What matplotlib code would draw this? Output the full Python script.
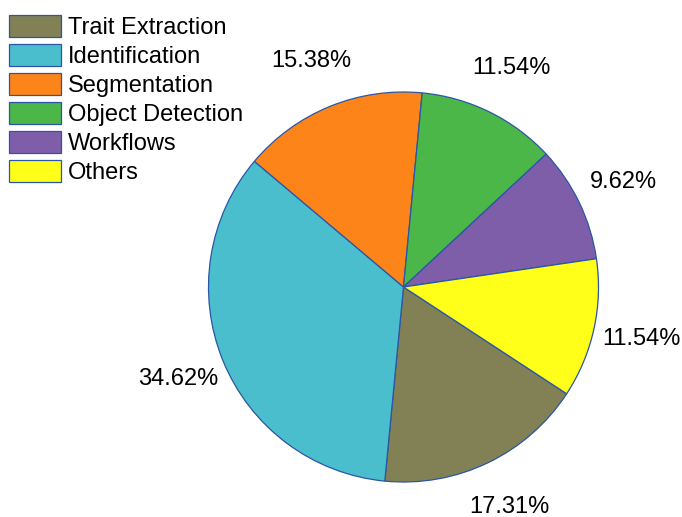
import matplotlib
matplotlib.use("Agg")
import matplotlib.pyplot as plt

categories = ["Trait Extraction", "Identification", "Segmentation",
              "Object Detection", "Workflows", "Others"]
counts = [9, 18, 8, 6, 5, 6]
colors = ["#818155", "#4BBECD", "#FD8419", "#4BB748", "#7F5EA9", "#FFFF1A"]

plt.rcParams['font.family'] = ['Liberation Sans', 'DejaVu Sans']

W, H = 682, 517
fig = plt.figure(figsize=(W / 100, H / 100), dpi=100)
ax = fig.add_axes([0, 0, 1, 1])
cx, cy, R = 403.5, 287.0, 195.0

wedges, texts, autotexts = ax.pie(
    counts, colors=colors, startangle=-33.2, counterclock=False,
    autopct='%1.2f%%', pctdistance=1.25, radius=1,
    wedgeprops=dict(edgecolor='#2a55a8', linewidth=0.9),
    textprops=dict(fontsize=17, color='black'), frame=True)
ax.set_xlim(-cx / R, (W - cx) / R)
ax.set_ylim(-(H - cy) / R, cy / R)
ax.set_aspect('auto')
ax.axis('off')

fs = 17
leg = fig.legend(wedges, categories, loc='upper left',
                 bbox_to_anchor=(9 / W, 1 - 15 / H), frameon=False,
                 fontsize=fs, handlelength=2.2, handleheight=1.08,
                 handletextpad=0.28, labelspacing=0.2, borderpad=0,
                 borderaxespad=0)
for h in leg.legend_handles:
    h.set_edgecolor('#2a55a8')
    h.set_linewidth(0.9)

fig.savefig('out.png', dpi=100)
